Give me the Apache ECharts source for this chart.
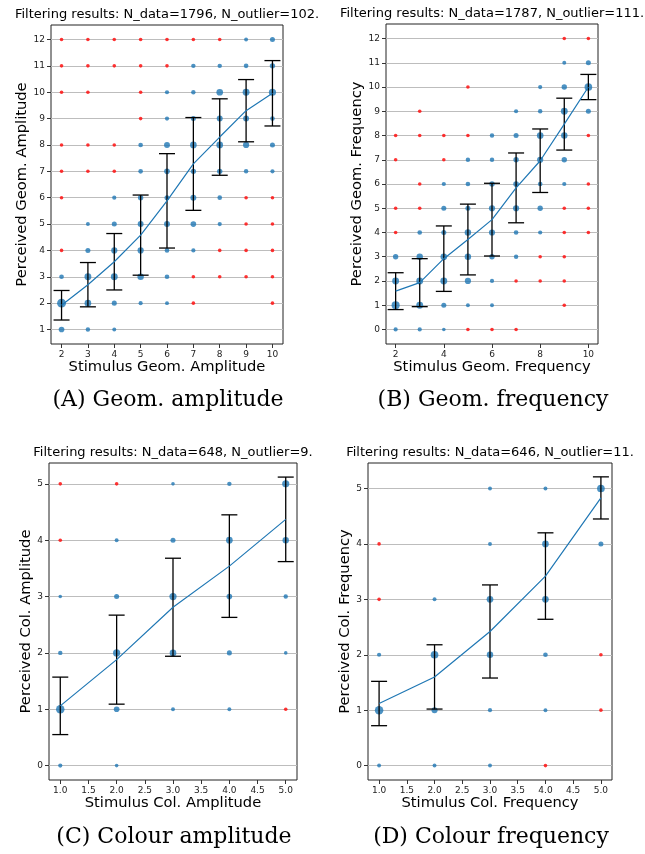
<!DOCTYPE html>
<html>
<head>
<meta charset="UTF-8">
<title>Filtering results</title>
<script src="https://cdn.jsdelivr.net/npm/echarts@6/dist/echarts.min.js"></script>
<style>
  * { margin: 0; padding: 0; }
  body { background: #fff; }
  #chart { width: 645px; height: 854px; }
</style>
</head>
<body>
<div id="chart"></div>
<script>
// ---- (A) geom. amplitude ----
const stimA = [2, 3, 4, 5, 6, 7, 8, 9, 10];
const meanA = [1.92, 2.70, 3.57, 4.58, 5.88, 7.28, 8.30, 9.30, 9.96];
const stdA  = [0.56, 0.84, 1.07, 1.52, 1.79, 1.76, 1.45, 1.18, 1.24];
// [stimulus, perceived, count]
const inA = [
  [9,12,3],[10,12,8],
  [7,11,5],[8,11,5],[9,11,6],[10,11,10],
  [6,10,4],[7,10,5],[8,10,20],[9,10,22],[10,10,25],
  [6,9,4],[7,9,8],[8,9,14],[9,9,14],[10,9,6],
  [5,8,6],[6,8,14],[7,8,20],[8,8,20],[9,8,16],[10,8,8],
  [5,7,6],[6,7,12],[7,7,10],[8,7,10],[9,7,5],[10,7,4],
  [4,6,4],[5,6,10],[6,6,8],[7,6,14],[8,6,6],
  [3,5,3],[4,5,8],[5,5,14],[6,5,14],[7,5,12],[8,5,4],
  [3,4,8],[4,4,16],[5,4,16],[6,4,6],[7,4,4],
  [2,3,6],[3,3,22],[4,3,22],[5,3,18],[6,3,6],
  [2,2,45],[3,2,20],[4,2,8],[5,2,4],[6,2,3],
  [2,1,12],[3,1,5],[4,1,3]
];
const outA = [
  [2,12],[3,12],[4,12],[5,12],[6,12],[7,12],[8,12],
  [2,11],[3,11],[4,11],[5,11],[6,11],
  [2,10],[3,10],[5,10],
  [5,9],
  [2,8],[3,8],[4,8],
  [2,7],[3,7],[4,7],
  [2,6],[9,6],[10,6],
  [9,5],[10,5],
  [2,4],[8,4],[9,4],[10,4],
  [7,3],[8,3],[9,3],[10,3],
  [7,2],[10,2]
];
const yTicksA = [1,2,3,4,5,6,7,8,9,10,11,12];
const xTicksA = [2,3,4,5,6,7,8,9,10];

// ---- (B) geom. frequency ----
const stimB = [2, 3, 4, 5, 6, 7, 8, 9, 10];
const meanB = [1.58, 1.93, 2.92, 3.71, 4.53, 5.84, 6.96, 8.47, 10.0];
const stdB  = [0.76, 0.99, 1.35, 1.46, 1.50, 1.44, 1.31, 1.07, 0.52];
const inB = [
  [9,11,3],[10,11,8],
  [8,10,4],[9,10,10],[10,10,30],
  [7,9,4],[8,9,5],[9,9,22],[10,9,8],
  [6,8,5],[7,8,8],[8,8,20],[9,8,18],
  [5,7,5],[6,7,5],[7,7,10],[8,7,16],[9,7,10],
  [4,6,4],[5,6,6],[6,6,10],[7,6,12],[8,6,6],[9,6,4],
  [4,5,8],[5,5,8],[6,5,16],[7,5,16],[8,5,10],
  [3,4,6],[4,4,8],[5,4,18],[6,4,16],[7,4,6],[8,4,4],
  [2,3,10],[3,3,18],[4,3,20],[5,3,18],[6,3,10],[7,3,5],
  [2,2,22],[3,2,22],[4,2,22],[5,2,16],[6,2,4],
  [2,1,35],[3,1,22],[4,1,8],[5,1,3],[6,1,3],
  [2,0,4],[3,0,4],[4,0,2]
];
const outB = [
  [9,12],[10,12],
  [5,10],
  [3,9],
  [2,8],[3,8],[4,8],[5,8],[10,8],
  [2,7],[4,7],
  [3,6],[10,6],
  [2,5],[3,5],[9,5],[10,5],
  [2,4],[9,4],[10,4],
  [8,3],[9,3],
  [7,2],[8,2],[9,2],
  [9,1],
  [5,0],[6,0],[7,0]
];
const yTicksB = [0,1,2,3,4,5,6,7,8,9,10,11,12];
const xTicksB = [2,4,6,8,10];

// ---- (C) colour amplitude ----
const stimC = [1, 2, 3, 4, 5];
const meanC = [1.06, 1.88, 2.81, 3.54, 4.37];
const stdC  = [0.51, 0.79, 0.87, 0.91, 0.75];
const inC = [
  [3,5,2],[4,5,5],[5,5,25],
  [2,4,3],[3,4,8],[4,4,20],[5,4,18],
  [1,3,2],[2,3,8],[3,3,25],[4,3,12],[5,3,5],
  [1,2,5],[2,2,25],[3,2,20],[4,2,8],[5,2,2],
  [1,1,40],[2,1,12],[3,1,3],[4,1,3],
  [1,0,4],[2,0,2]
];
const outC = [[1,5],[2,5],[1,4],[5,1]];

// ---- (D) colour frequency ----
const stimD = [1, 2, 3, 4, 5];
const meanD = [1.12, 1.60, 2.42, 3.42, 4.83];
const stdD  = [0.40, 0.58, 0.84, 0.78, 0.38];
const inD = [
  [3,5,3],[4,5,3],[5,5,30],
  [3,4,3],[4,4,20],[5,4,8],
  [2,3,3],[3,3,20],[4,3,20],
  [1,2,4],[2,2,30],[3,2,18],[4,2,6],
  [1,1,40],[2,1,15],[3,1,4],[4,1,3],
  [1,0,3],[2,0,3],[3,0,3]
];
const outD = [[1,4],[1,3],[5,2],[5,1],[4,0]];

const yTicksCol = [0,1,2,3,4,5];
const xTicksCol = [1,1.5,2,2.5,3,3.5,4,4.5,5];

const titles = [
  'Filtering results: N_data=1796, N_outlier=102.',
  'Filtering results: N_data=1787, N_outlier=111.',
  'Filtering results: N_data=648, N_outlier=9.',
  'Filtering results: N_data=646, N_outlier=11.'
];
const captions = ['(A) Geom. amplitude', '(B) Geom. frequency', '(C) Colour amplitude', '(D) Colour frequency'];

const BLUE = '#1f77b4';
const FONT = 'DejaVu Sans';

const grids = [
  { left: 51,  top: 25,  width: 232, height: 319 },
  { left: 386, top: 24,  width: 212, height: 320 },
  { left: 49,  top: 463, width: 248, height: 317 },
  { left: 368, top: 463, width: 244, height: 317 }
];

function xAxis(gi, min, max, ticks, name, fmt) {
  return {
    type: 'value', gridIndex: gi, min: min, max: max,
    name: name, nameLocation: 'middle', nameGap: 16,
    nameTextStyle: { fontSize: 14.7, color: '#000', fontFamily: FONT },
    axisLine: { show: false, onZero: false },
    axisTick: { show: true, customValues: ticks, length: 4, lineStyle: { color: '#333' } },
    axisLabel: { customValues: ticks, fontSize: 9, color: '#222', margin: 6, fontFamily: FONT, formatter: fmt },
    splitLine: { show: false }
  };
}

function yAxis(gi, min, max, ticks, name, gap) {
  return {
    type: 'value', gridIndex: gi, min: min, max: max,
    name: name, nameLocation: 'middle', nameGap: gap,
    nameTextStyle: { fontSize: 14.7, color: '#000', fontFamily: FONT },
    axisLine: { show: false, onZero: false },
    axisTick: { show: true, customValues: ticks, length: 4, lineStyle: { color: '#333' } },
    axisLabel: { customValues: ticks, fontSize: 9, color: '#222', margin: 6, fontFamily: FONT },
    splitLine: { show: true, lineStyle: { color: '#bdbdbd', width: 1.2 } }
  };
}

function errorBar(params, api) {
  const x = api.value(0);
  const top = api.coord([x, api.value(2)]);
  const bot = api.coord([x, api.value(1)]);
  const w = 8;
  const st = { stroke: '#000', lineWidth: 1.3 };
  return {
    type: 'group',
    children: [
      { type: 'line', shape: { x1: top[0], y1: top[1], x2: bot[0], y2: bot[1] }, style: st },
      { type: 'line', shape: { x1: top[0] - w, y1: top[1], x2: top[0] + w, y2: top[1] }, style: st },
      { type: 'line', shape: { x1: bot[0] - w, y1: bot[1], x2: bot[0] + w, y2: bot[1] }, style: st }
    ]
  };
}

function panelSeries(gi, stim, mean, std, inl, outl) {
  return [
    {
      type: 'scatter', xAxisIndex: gi, yAxisIndex: gi, z: 2,
      data: inl,
      symbolSize: d => 2.2 + Math.sqrt(d[2]),
      itemStyle: { color: BLUE, opacity: 0.8 }
    },
    {
      type: 'scatter', xAxisIndex: gi, yAxisIndex: gi, z: 2,
      data: outl, symbolSize: 3.6,
      itemStyle: { color: '#ff1010', opacity: 0.85 }
    },
    {
      type: 'custom', xAxisIndex: gi, yAxisIndex: gi, z: 3,
      renderItem: errorBar,
      data: stim.map((x, i) => [x, mean[i] - std[i], mean[i] + std[i]])
    },
    {
      type: 'line', xAxisIndex: gi, yAxisIndex: gi, z: 4,
      data: stim.map((x, i) => [x, mean[i]]),
      symbol: 'none', lineStyle: { color: BLUE, width: 1.2 }
    }
  ];
}

const graphic = [];
grids.forEach((g, i) => {
  const cx = g.left + g.width / 2;
  graphic.push({
    type: 'text', x: cx, y: g.top - 10,
    style: { text: titles[i], fontSize: 13, fontFamily: FONT, fill: '#000', textAlign: 'center', textVerticalAlign: 'middle' }
  });
  graphic.push({
    type: 'text', x: cx + 1, y: i < 2 ? 400 : 837,
    style: { text: captions[i], fontSize: 22, fontFamily: 'DejaVu Serif', fill: '#000', textAlign: 'center', textVerticalAlign: 'middle' }
  });
});

const chart = echarts.init(document.getElementById('chart'), null, { renderer: 'canvas' });
chart.setOption({
  animation: false,
  backgroundColor: '#fff',
  grid: grids.map(g => Object.assign({ show: true, borderColor: '#222', borderWidth: 1, backgroundColor: 'transparent' }, g)),
  xAxis: [
    xAxis(0, 1.6, 10.4, xTicksA, 'Stimulus Geom. Amplitude'),
    xAxis(1, 1.6, 10.4, xTicksB, 'Stimulus Geom. Frequency'),
    xAxis(2, 0.8, 5.2, xTicksCol, 'Stimulus Col. Amplitude', v => v.toFixed(1)),
    xAxis(3, 0.8, 5.2, xTicksCol, 'Stimulus Col. Frequency', v => v.toFixed(1))
  ],
  yAxis: [
    yAxis(0, 0.45, 12.55, yTicksA, 'Perceived Geom. Amplitude', 20),
    yAxis(1, -0.6, 12.6, yTicksB, 'Perceived Geom. Frequency', 21),
    yAxis(2, -0.256, 5.37, yTicksCol, 'Perceived Col. Amplitude', 15),
    yAxis(3, -0.26, 5.46, yTicksCol, 'Perceived Col. Frequency', 15)
  ],
  series: [].concat(
    panelSeries(0, stimA, meanA, stdA, inA, outA),
    panelSeries(1, stimB, meanB, stdB, inB, outB),
    panelSeries(2, stimC, meanC, stdC, inC, outC),
    panelSeries(3, stimD, meanD, stdD, inD, outD)
  ),
  graphic: graphic
});
</script>
</body>
</html>
